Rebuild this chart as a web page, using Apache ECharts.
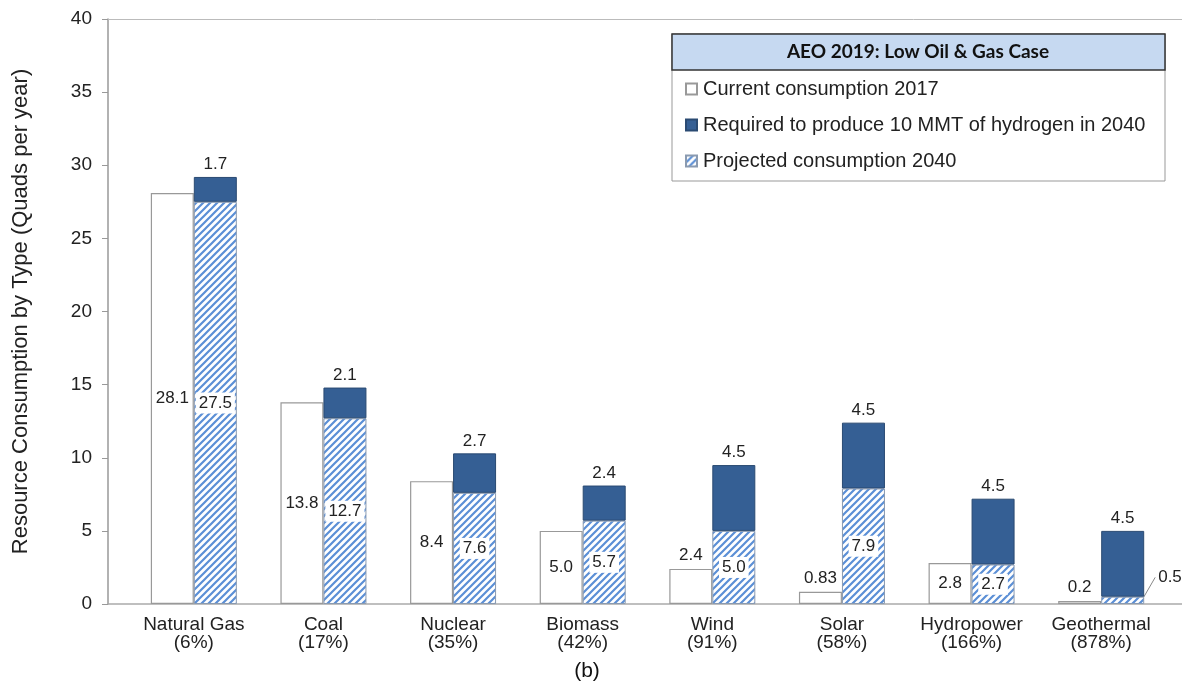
<!DOCTYPE html>
<html>
<head>
    <meta charset="utf-8">
    <title>AEO 2019 Low Oil & Gas</title>
    <script src="https://cdn.jsdelivr.net/npm/echarts@6/dist/echarts.min.js"></script>
    <style>
        html, body {margin: 0; padding: 0; background: #fff;}
        #main {width: 1182px; height: 685px;}
    </style>
</head>
<body>
<div id="main"></div>
<script type="text/javascript">
    // data
    var categories = ['Natural Gas\n(6%)', 'Coal\n(17%)', 'Nuclear\n(35%)', 'Biomass\n(42%)',
        'Wind\n(91%)', 'Solar\n(58%)', 'Hydropower\n(166%)', 'Geothermal\n(878%)'];
    var current2017 = [28.1, 13.8, 8.4, 5.0, 2.4, 0.83, 2.8, 0.2];
    var projected2040 = [27.5, 12.7, 7.6, 5.7, 5.0, 7.9, 2.7, 0.5];
    var requiredH2 = [1.7, 2.1, 2.7, 2.4, 4.5, 4.5, 4.5, 4.5];
    var yTicks = [0, 5, 10, 15, 20, 25, 30, 35, 40];

    var darkBlue = '#355f94';

    // hatch pattern for projected consumption
    function hatch() {
        var c = document.createElement('canvas');
        c.width = 7; c.height = 7;
        var g = c.getContext('2d');
        g.fillStyle = '#fff';
        g.fillRect(0, 0, 7, 7);
        g.strokeStyle = '#5b8fd6';
        g.lineWidth = 2.2;
        g.beginPath();
        g.moveTo(-1, 8); g.lineTo(8, -1);
        g.moveTo(-1, 1); g.lineTo(1, -1);
        g.moveTo(6, 8); g.lineTo(8, 6);
        g.stroke();
        return c;
    }
    var hatchFill = {image: hatch(), repeat: 'repeat'};

    var labelFont = {fontFamily: 'Liberation Sans', fontSize: 17, color: '#222'};

    var currentData = current2017.map(function (v) {
        return {value: v, label: {position: v < 2.5 ? 'top' : 'inside'}};
    });
    var projectedData = projected2040.map(function (v) {
        if (v < 1) {
            return {value: v, label: {position: 'right', backgroundColor: 'transparent'},
                labelLine: {show: true, lineStyle: {color: '#888', width: 1}}};
        }
        return v;
    });

    var myChart = echarts.init(document.getElementById('main'));
    var option = {
        animation: false,
        textStyle: {fontFamily: 'Liberation Sans'},
        grid: [
            {left: 108, right: 0, top: 19, bottom: 81},
            {left: 129, right: 16, top: 19, bottom: 81}
        ],
        xAxis: [
            { // frame: bottom axis line
                gridIndex: 0, type: 'value', min: 0, max: 1,
                axisLine: {show: true, lineStyle: {color: '#aaa', width: 1.5}},
                axisTick: {show: false}, axisLabel: {show: false}, splitLine: {show: false}
            },
            { // frame: top border
                gridIndex: 0, type: 'value', min: 0, max: 1, position: 'top',
                axisLine: {show: true, lineStyle: {color: '#bbb', width: 1}},
                axisTick: {show: false}, axisLabel: {show: false}, splitLine: {show: false}
            },
            {
                gridIndex: 1, type: 'category', data: categories,
                axisLine: {show: false}, axisTick: {show: false},
                axisLabel: {fontSize: 19, lineHeight: 18, color: '#222', margin: 12, interval: 0}
            }
        ],
        yAxis: [
            {
                gridIndex: 0, type: 'value', min: yTicks[0], max: yTicks[yTicks.length - 1], interval: 5,
                name: 'Resource Consumption by Type (Quads per year)',
                nameLocation: 'middle', nameGap: 76,
                nameTextStyle: {fontSize: 22, color: '#222'},
                axisLine: {show: true, lineStyle: {color: '#999', width: 1.5}},
                axisTick: {show: true, length: 6, lineStyle: {color: '#999'}},
                axisLabel: {fontSize: 19, color: '#222', margin: 16},
                splitLine: {show: false}
            },
            {
                gridIndex: 1, type: 'value', min: 0, max: 40, show: false
            }
        ],
        legend: {
            orient: 'vertical', left: 680, top: 74, itemGap: 16,
            itemWidth: 11, itemHeight: 11, icon: 'rect',
            textStyle: {fontSize: 20, color: '#222', padding: [0, 0, 0, 1]},
            data: ['Current consumption 2017', 'Required to produce 10 MMT of hydrogen in 2040', 'Projected consumption 2040']
        },
        graphic: [
            {type: 'rect', z: 1, shape: {x: 672, y: 34, width: 493, height: 147},
                style: {fill: '#fff', stroke: '#999', lineWidth: 1}},
            {type: 'rect', z: 2, shape: {x: 672, y: 34, width: 493, height: 36},
                style: {fill: '#c6d9f1', stroke: '#333', lineWidth: 1.5}},
            {type: 'text', z: 3, x: 918, y: 52,
                style: {text: 'AEO 2019: Low Oil & Gas Case', fontFamily: 'Lato', fontWeight: 'bold',
                    fontSize: 19, fill: '#111', align: 'center', verticalAlign: 'middle'}},
            {type: 'text', x: 587, y: 671,
                style: {text: '(b)', fontFamily: 'Liberation Sans', fontSize: 21, fill: '#111',
                    align: 'center', verticalAlign: 'middle'}}
        ],
        series: [
            {
                name: 'Current consumption 2017', type: 'bar',
                xAxisIndex: 2, yAxisIndex: 1,
                barWidth: 43, barGap: '0%',
                itemStyle: {color: '#fff', borderColor: '#999', borderWidth: 1.2},
                label: Object.assign({show: true, formatter: function (p) {
                    return p.value === 0.83 ? '0.83' : p.value.toFixed(1);
                }}, labelFont),
                data: currentData
            },
            {
                name: 'Projected consumption 2040', type: 'bar', stack: 'h2',
                xAxisIndex: 2, yAxisIndex: 1,
                barWidth: 43,
                itemStyle: {color: hatchFill, borderColor: '#8a9ab0', borderWidth: 1},
                label: Object.assign({show: true, position: 'inside', backgroundColor: '#fff',
                    padding: [3, 3, 1, 3], formatter: function (p) { return p.value.toFixed(1); }}, labelFont),
                labelLayout: function (p) {
                    if (p.dataIndex === 7) {
                        return {dx: 6, dy: -23};
                    }
                },
                data: projectedData
            },
            {
                name: 'Required to produce 10 MMT of hydrogen in 2040', type: 'bar', stack: 'h2',
                xAxisIndex: 2, yAxisIndex: 1,
                barWidth: 43,
                itemStyle: {color: darkBlue, borderColor: '#2a4a72', borderWidth: 1},
                label: Object.assign({show: true, position: 'top', distance: 4,
                    formatter: function (p) { return p.value.toFixed(1); }}, labelFont),
                data: requiredH2
            }
        ]
    };
    myChart.setOption(option);
</script>
</body>
</html>
